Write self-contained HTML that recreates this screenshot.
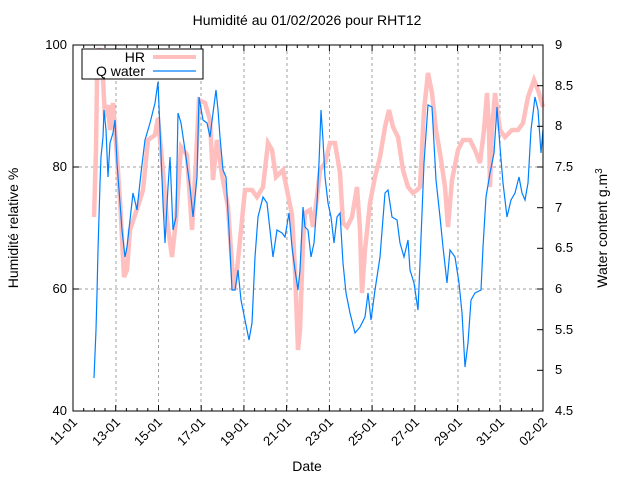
<!DOCTYPE html>
<html><head><meta charset="utf-8"><style>
body{margin:0;background:#fff}
svg text{font-family:"Liberation Sans",sans-serif;fill:#000}
</style></head><body>
<svg width="640" height="480" viewBox="0 0 640 480" xmlns="http://www.w3.org/2000/svg">
<rect width="640" height="480" fill="#fff"/>
<text x="307" y="25" font-size="14" text-anchor="middle">Humidité au 01/02/2026 pour RHT12</text>
<g stroke="#a0a0a0" stroke-dasharray="3,3" stroke-width="1">
<line x1="73" y1="167" x2="543" y2="167"/><line x1="73" y1="289" x2="543" y2="289"/>
<line x1="116" y1="45" x2="116" y2="411"/><line x1="158.5" y1="45" x2="158.5" y2="411"/><line x1="201" y1="45" x2="201" y2="411"/><line x1="244" y1="45" x2="244" y2="411"/><line x1="287" y1="45" x2="287" y2="411"/><line x1="329.5" y1="45" x2="329.5" y2="411"/><line x1="372" y1="45" x2="372" y2="411"/><line x1="415" y1="45" x2="415" y2="411"/><line x1="458" y1="45" x2="458" y2="411"/><line x1="500" y1="45" x2="500" y2="411"/>
</g>
<polyline fill="none" stroke="#ffbfbf" stroke-width="4.5" points="94,217 96,150 97,80 99,48 101,60 103,80 105,117 108,105 110,130 113,103 117,157 120,200 124,277 127,270 130,230 135,215 140,200 143,190 148,140 155,135 158,118 162,160 167,220 172,257 176,220 181,147 187,155 192,230 196,160 199,100 205,103 210,120 213,180 217,140 222,175 228,207 231,250 234,290 237,270 240,240 245,190 252,190 257,197 263,187 268,143 272,150 276,177 283,170 287,190 292,215 295,270 298,350 300,330 303,243 305,213 310,210 313,227 317,197 320,170 325,163 330,143 335,143 340,173 343,223 347,227 352,217 357,187 360,230 362,293 365,250 370,203 375,177 380,157 385,127 389,110 393,127 398,137 403,170 408,187 413,193 417,190 420,187 424,110 428,73 432,93 436,130 440,153 445,187 448,227 452,180 458,150 463,140 470,140 475,150 480,163 484,130 487,93 489,130 490,187 492,130 495,93 500,130 505,137 512,130 518,130 523,123 528,97 534,80 538,90 543,107"/>
<polyline fill="none" stroke="#0080ff" stroke-width="1.2" points="94,378 96,330 97,293 98,250 100,183 101,157 103,137 104,110 106,130 108,177 110,143 113,133 115,120 117,163 120,203 122,230 125,257 127,247 130,220 133,193 137,210 141,173 145,140 150,123 155,103 158,82 160,130 163,203 165,243 168,187 170,157 173,230 176,217 178,113 181,123 185,150 190,187 193,217 197,177 199,97 203,120 207,123 210,137 213,113 216,90 218,110 220,137 223,170 226,177 229,230 232,290 235,290 238,270 241,300 245,320 249,340 252,323 255,257 258,217 263,197 267,203 270,230 273,257 277,230 282,233 285,237 289,213 292,247 295,270 298,290 300,270 303,207 305,227 308,230 311,257 314,243 317,203 319,163 321,110 323,140 325,177 328,203 331,217 334,243 337,217 340,213 343,263 346,293 350,313 355,333 360,327 365,317 368,293 371,320 375,290 380,257 385,193 388,190 392,217 397,220 400,243 404,257 408,240 410,270 414,283 418,310 420,263 424,163 428,105 432,107 436,180 440,217 443,247 447,283 450,250 455,257 459,283 462,313 465,367 468,343 471,300 475,293 481,290 483,247 486,197 490,173 494,153 497,107 500,147 503,183 507,217 511,200 515,193 519,177 522,193 525,200 528,183 531,130 535,97 538,110 541,153 543,130"/>
<rect x="73" y="45" width="470" height="366" fill="none" stroke="#000" stroke-width="1"/>
<g stroke="#000" stroke-width="1">
<line x1="73" y1="45" x2="79" y2="45"/><line x1="73" y1="167" x2="79" y2="167"/><line x1="73" y1="289" x2="79" y2="289"/>
<line x1="543" y1="45" x2="537" y2="45"/><line x1="543" y1="85.7" x2="537" y2="85.7"/><line x1="543" y1="126.3" x2="537" y2="126.3"/><line x1="543" y1="167" x2="537" y2="167"/><line x1="543" y1="207.7" x2="537" y2="207.7"/><line x1="543" y1="248.3" x2="537" y2="248.3"/><line x1="543" y1="289" x2="537" y2="289"/><line x1="543" y1="329.7" x2="537" y2="329.7"/><line x1="543" y1="370.3" x2="537" y2="370.3"/>
<path fill="none" d="M115.7 411v-6M158.5 411v-6M201.2 411v-6M243.9 411v-6M286.6 411v-6M329.4 411v-6M372.1 411v-6M414.8 411v-6M457.5 411v-6M500.3 411v-6
M115.7 45v6M158.5 45v6M201.2 45v6M243.9 45v6M286.6 45v6M329.4 45v6M372.1 45v6M414.8 45v6M457.5 45v6M500.3 45v6
M83.7 411v-3M94.4 411v-3M105 411v-3M126.4 411v-3M137.1 411v-3M147.8 411v-3M169.1 411v-3M179.8 411v-3M190.5 411v-3M211.9 411v-3M222.5 411v-3M233.2 411v-3M254.6 411v-3M265.3 411v-3M276 411v-3M297.3 411v-3M308 411v-3M318.7 411v-3M340 411v-3M350.7 411v-3M361.4 411v-3M382.8 411v-3M393.5 411v-3M404.1 411v-3M425.5 411v-3M436.2 411v-3M446.9 411v-3M468.2 411v-3M478.9 411v-3M489.6 411v-3M511 411v-3M521.6 411v-3M532.3 411v-3
M83.7 45v3M94.4 45v3M105 45v3M126.4 45v3M137.1 45v3M147.8 45v3M169.1 45v3M179.8 45v3M190.5 45v3M211.9 45v3M222.5 45v3M233.2 45v3M254.6 45v3M265.3 45v3M276 45v3M297.3 45v3M308 45v3M318.7 45v3M340 45v3M350.7 45v3M361.4 45v3M382.8 45v3M393.5 45v3M404.1 45v3M425.5 45v3M436.2 45v3M446.9 45v3M468.2 45v3M478.9 45v3M489.6 45v3M511 45v3M521.6 45v3M532.3 45v3"/>
</g>
<g font-size="13">
<text x="67" y="49" text-anchor="end">100</text><text x="67" y="171" text-anchor="end">80</text><text x="67" y="293" text-anchor="end">60</text><text x="67" y="415" text-anchor="end">40</text>
<text x="555" y="49">9</text><text x="555" y="90">8.5</text><text x="555" y="130">8</text><text x="555" y="171">7.5</text><text x="555" y="212">7</text><text x="555" y="252">6.5</text><text x="555" y="293">6</text><text x="555" y="334">5.5</text><text x="555" y="374">5</text><text x="555" y="415">4.5</text>
</g>
<g font-size="13" text-anchor="end">
<text transform="translate(78,423) rotate(-45)">11-01</text>
<text transform="translate(121,423) rotate(-45)">13-01</text>
<text transform="translate(163,423) rotate(-45)">15-01</text>
<text transform="translate(206,423) rotate(-45)">17-01</text>
<text transform="translate(249,423) rotate(-45)">19-01</text>
<text transform="translate(292,423) rotate(-45)">21-01</text>
<text transform="translate(334,423) rotate(-45)">23-01</text>
<text transform="translate(377,423) rotate(-45)">25-01</text>
<text transform="translate(420,423) rotate(-45)">27-01</text>
<text transform="translate(463,423) rotate(-45)">29-01</text>
<text transform="translate(505,423) rotate(-45)">31-01</text>
<text transform="translate(548,423) rotate(-45)">02-02</text>
</g>
<text x="307" y="471" font-size="14" text-anchor="middle">Date</text>
<text transform="translate(18,228) rotate(-90)" font-size="14" text-anchor="middle">Humidité relative %</text>
<text transform="translate(607,228) rotate(-90)" font-size="14" text-anchor="middle">Water content g.m<tspan dy="-5" font-size="10">3</tspan></text>
<rect x="82" y="49" width="121" height="30" fill="#fff" stroke="#000"/>
<text x="145" y="62" font-size="14" text-anchor="end">HR</text>
<line x1="153" y1="57" x2="196" y2="57" stroke="#ffbfbf" stroke-width="4"/>
<text x="145" y="76" font-size="14" text-anchor="end">Q water</text>
<line x1="153" y1="71" x2="196" y2="71" stroke="#0080ff" stroke-width="1.2"/>
</svg>
</body></html>
